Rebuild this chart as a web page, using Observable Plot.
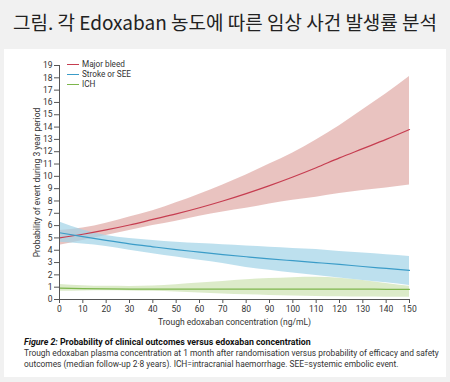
<!DOCTYPE html>
<html><head><meta charset="utf-8">
<script src="https://cdn.jsdelivr.net/npm/d3@7"></script>
<script src="https://cdn.jsdelivr.net/npm/@observablehq/plot@0.6"></script>
<style>
html,body{margin:0;padding:0;}
body{width:450px;height:382px;background:#f1f1f1;position:relative;overflow:hidden;font-family:"Liberation Sans Narrow","Roboto",sans-serif;}
#title{position:absolute;top:8px;left:0;width:450px;text-align:center;font-family:"Noto Sans CJK KR",sans-serif;font-size:19px;font-weight:400;color:#222;line-height:28px;}
#panel{position:absolute;left:4px;top:49px;width:442px;height:328px;background:#fff;}
#chart{position:absolute;left:0;top:50px;}
#legend{position:absolute;left:67px;top:60px;font-size:8.2px;color:#333;}
#legend div{height:9.8px;line-height:9.8px;display:flex;align-items:center;}
#legend span.sw{display:inline-block;width:12px;height:0;border-top:1px solid;margin-right:3px;}
#caption{position:absolute;left:24px;top:336.5px;width:420px;font-size:8.4px;line-height:11.3px;color:#333;}
#caption b{color:#111;font-size:8.8px;}
</style></head>
<body>
<div id="title">그림. 각 Edoxaban 농도에 따른 임상 사건 발생률 분석</div>
<div id="panel"></div>
<div id="chart"></div>
<div id="legend"></div>
<div id="caption"><b><i>Figure 2:</i> Probability of clinical outcomes versus edoxaban concentration</b><br>Trough edoxaban plasma concentration at 1 month after randomisation versus probability of efficacy and safety outcomes (median follow-up 2·8 years). ICH=intracranial haemorrhage. SEE=systemic embolic event.</div>
<script>
const conc = [0,10,20,30,40,50,60,70,80,90,100,110,120,130,140,150];
const majorBleed   = [5.0,5.3,5.65,6.05,6.5,6.95,7.45,8.0,8.6,9.25,9.95,10.7,11.5,12.25,13.0,13.8];
const majorBleedLo = [4.4,4.8,5.2,5.6,6.0,6.35,6.75,7.1,7.4,7.75,8.05,8.3,8.6,8.85,9.05,9.3];
const majorBleedHi = [5.6,5.8,6.2,6.7,7.2,7.85,8.55,9.3,10.1,11.0,11.9,12.95,14.1,15.4,16.7,18.1];
const strokeSEE    = [5.42,5.1,4.8,4.52,4.28,4.05,3.85,3.65,3.47,3.3,3.15,3.0,2.85,2.68,2.52,2.36];
const strokeSEELo  = [4.65,4.5,4.3,4.0,3.72,3.45,3.18,2.92,2.6,2.37,2.15,1.95,1.75,1.55,1.35,1.14];
const strokeSEEHi  = [6.3,5.65,5.2,4.95,4.8,4.65,4.55,4.45,4.35,4.25,4.15,4.05,3.9,3.77,3.63,3.5];
const ich          = [0.92,0.88,0.86,0.85,0.84,0.84,0.84,0.84,0.84,0.84,0.84,0.84,0.84,0.84,0.83,0.83];
const ichLo        = [0.67,0.7,0.71,0.7,0.66,0.6,0.52,0.45,0.38,0.33,0.29,0.25,0.22,0.2,0.19,0.18];
const ichHi        = [1.22,1.12,1.07,1.06,1.1,1.2,1.33,1.47,1.6,1.7,1.77,1.8,1.72,1.55,1.3,1.08];
const seriesNames = ["Major bleed","Stroke or SEE","ICH"];
const lineColors = ["#c63d50","#3b9cc8","#7db64c"];
const bandColors = ["#e0a9a5","#a1d3e7","#cde2b2"];
const xTicks = d3.range(0,151,10);
const yTicks = d3.range(0,20,1);

const rows = conc.map((c,i)=>({c,
  mb:majorBleed[i], mbLo:majorBleedLo[i], mbHi:majorBleedHi[i],
  st:strokeSEE[i], stLo:strokeSEELo[i], stHi:strokeSEEHi[i],
  ic:ich[i], icLo:ichLo[i], icHi:ichHi[i]}));

const curve = "monotone-x";
const font = '"Liberation Sans Narrow","Roboto",sans-serif';
const chart = Plot.plot({
  width:450, height:280,
  marginLeft:59, marginRight:41, marginTop:15, marginBottom:31,
  style:{fontFamily:font, fontSize:"8.5px", color:"#333", background:"transparent"},
  x:{domain:[0,150]},
  y:{domain:[0,19]},
  marks:[
    Plot.areaY(rows,{x:"c",y1:"mbLo",y2:"mbHi",fill:bandColors[0],fillOpacity:0.7,curve}),
    Plot.areaY(rows,{x:"c",y1:"icLo",y2:"icHi",fill:bandColors[2],fillOpacity:0.7,curve}),
    Plot.areaY(rows,{x:"c",y1:"stLo",y2:"stHi",fill:bandColors[1],fillOpacity:0.7,curve}),
    Plot.line(rows,{x:"c",y:"mb",stroke:lineColors[0],strokeWidth:1.2,curve}),
    Plot.line(rows,{x:"c",y:"st",stroke:lineColors[1],strokeWidth:1.2,curve}),
    Plot.line(rows,{x:"c",y:"ic",stroke:lineColors[2],strokeWidth:1.2,curve}),
    Plot.ruleX([0],{stroke:"#555"}),
    Plot.ruleY([0],{stroke:"#555"}),
    Plot.axisY({ticks:yTicks, tickSize:5, tickPadding:2, stroke:"#555",
      label:"Probability of event during 3 year period", labelAnchor:"center", labelArrow:"none", labelOffset:26, fontSize:8.5}),
    Plot.axisX({ticks:xTicks, tickSize:4, tickPadding:2, stroke:"#555",
      label:"Trough edoxaban concentration (ng/mL)", labelAnchor:"center", labelArrow:"none", labelOffset:25, fontSize:8.5})
  ]
});
document.getElementById("chart").appendChild(chart);

const leg = document.getElementById("legend");
seriesNames.forEach((n,i)=>{
  const d = document.createElement("div");
  d.innerHTML = `<span class="sw" style="border-color:${lineColors[i]}"></span>${n}`;
  leg.appendChild(d);
});
</script>
</body></html>
